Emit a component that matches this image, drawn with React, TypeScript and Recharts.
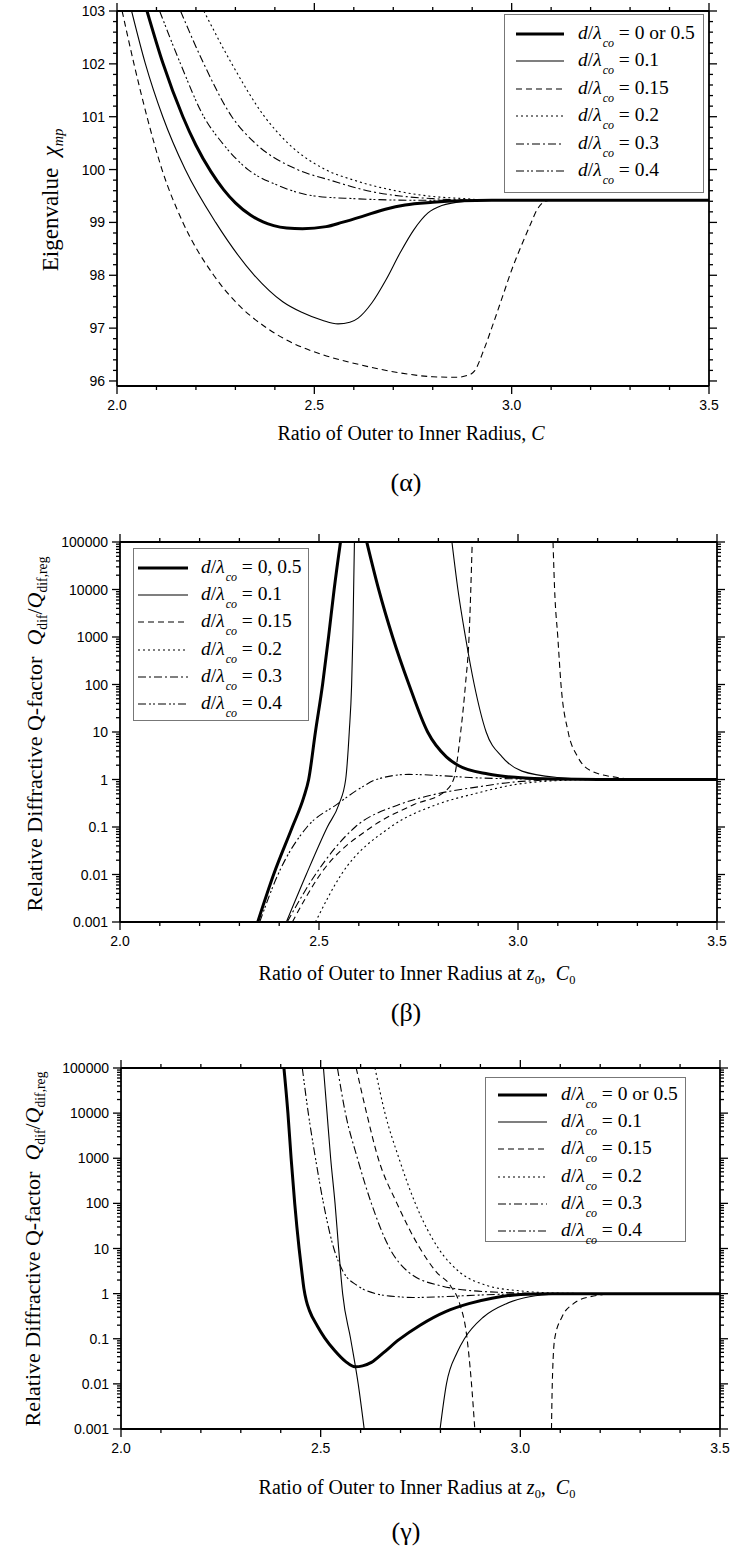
import { LineChart, Line, XAxis, YAxis, Legend } from 'recharts';

type Pair = [number, number | null];

// shared x axis (ratio C or C0)
const xMajor = [2, 2.5, 3, 3.5];
const xMinor = [2.1, 2.2, 2.3, 2.4, 2.6, 2.7, 2.8, 2.9, 3.1, 3.2, 3.3, 3.4];

// (α) eigenvalue axis
const eigenMajor = [96, 97, 98, 99, 100, 101, 102, 103];
const eigenMinor = eigenMajor.slice(0, -1).flatMap((v) => [0.2, 0.4, 0.6, 0.8].map((f) => +(v + f).toFixed(1)));

// (β), (γ) log axis
const logMajor = [0.001, 0.01, 0.1, 1, 10, 100, 1000, 10000, 100000];
const logMinor = logMajor.slice(0, -1).flatMap((d) => [2, 3, 4, 5, 6, 7, 8, 9].map((m) => +(m * d).toPrecision(3)));

const ratiosAlpha = ['0 or 0.5', '0.1', '0.15', '0.2', '0.3', '0.4'];
const ratiosBeta = ['0, 0.5', '0.1', '0.15', '0.2', '0.3', '0.4'];

// ---- (α) eigenvalue vs C ----
const alphaThick: Pair[] = [[2.076, 103], [2.116, 102.02], [2.167, 101], [2.2, 100.46], [2.238, 99.96], [2.27, 99.62], [2.3, 99.37], [2.338, 99.14], [2.37, 99.01], [2.397, 98.94], [2.43, 98.895], [2.47, 98.88], [2.53, 98.92], [2.57, 99.0], [2.62, 99.11], [2.68, 99.25], [2.73, 99.33], [2.8, 99.38], [2.87, 99.41], [2.95, 99.42], [3.5, 99.42]];
const alphaThin: Pair[] = [[2.037, 103], [2.072, 102], [2.116, 101], [2.173, 100], [2.25, 99], [2.348, 98], [2.42, 97.5], [2.468, 97.3], [2.52, 97.15], [2.56, 97.08], [2.59, 97.11], [2.611, 97.19], [2.646, 97.48], [2.682, 97.92], [2.717, 98.42], [2.752, 98.86], [2.788, 99.18], [2.823, 99.32], [2.883, 99.4], [2.93, 99.42], [3.5, 99.42]];
const alphaDash: Pair[] = [[2.013, 103], [2.043, 102], [2.076, 101], [2.114, 100], [2.167, 99], [2.245, 98], [2.3, 97.5], [2.38, 97], [2.45, 96.7], [2.52, 96.5], [2.62, 96.3], [2.72, 96.15], [2.8, 96.08], [2.86, 96.07], [2.89, 96.11], [2.906, 96.19], [2.93, 96.6], [2.954, 97.1], [2.977, 97.6], [3.0, 98.1], [3.024, 98.55], [3.048, 98.97], [3.065, 99.25], [3.085, 99.4], [3.1, 99.42], [3.5, 99.42]];
const alphaDot: Pair[] = [[2.22, 103], [2.291, 102], [2.374, 101], [2.433, 100.5], [2.528, 100], [2.6, 99.8], [2.705, 99.6], [2.788, 99.5], [2.88, 99.45], [2.95, 99.42], [3.5, 99.42]];
const alphaDashDot: Pair[] = [[2.161, 103], [2.22, 102], [2.291, 101], [2.35, 100.5], [2.457, 100], [2.54, 99.8], [2.634, 99.6], [2.717, 99.5], [2.8, 99.45], [2.9, 99.42], [3.5, 99.42]];
const alphaDashDotDot: Pair[] = [[2.108, 103], [2.161, 102], [2.22, 101], [2.267, 100.5], [2.332, 100], [2.408, 99.7], [2.5, 99.5], [2.6, 99.45], [2.75, 99.42], [3.5, 99.42]];

// ---- (β) relative Q vs C0 ----
const betaThick: Pair[] = [[2.346, 0.001], [2.386, 0.01], [2.433, 0.1], [2.462, 0.43], [2.474, 1], [2.491, 10], [2.509, 100], [2.524, 1000], [2.538, 10000], [2.554, 100000], [2.58, null], [2.62, 100000], [2.65, 10000], [2.685, 1000], [2.726, 100], [2.773, 10], [2.82, 3], [2.849, 2], [2.925, 1.3], [3.0, 1.1], [3.1, 1.02], [3.2, 1], [3.5, 1]];
const betaThin: Pair[] = [[2.418, 0.001], [2.468, 0.01], [2.521, 0.1], [2.55, 0.3], [2.567, 1], [2.576, 10], [2.582, 100], [2.585, 1000], [2.589, 100000], [2.7, null], [2.834, 100000], [2.849, 10000], [2.868, 1000], [2.89, 100], [2.92, 10], [2.96, 3], [3.01, 1.5], [3.1, 1.1], [3.2, 1], [3.5, 1]];
const betaDash: Pair[] = [[2.433, 0.001], [2.503, 0.01], [2.632, 0.1], [2.74, 0.3], [2.815, 0.55], [2.838, 1], [2.856, 10], [2.868, 100], [2.877, 1000], [2.885, 100000], [3.0, null], [3.088, 100000], [3.092, 10000], [3.1, 1000], [3.108, 100], [3.126, 10], [3.15, 3], [3.185, 1.5], [3.25, 1.1], [3.3, 1], [3.5, 1]];
const betaDot: Pair[] = [[2.491, 0.001], [2.556, 0.01], [2.68, 0.1], [2.797, 0.3], [2.89, 0.5], [3.0, 0.8], [3.1, 0.95], [3.2, 1], [3.5, 1]];
const betaDashDot: Pair[] = [[2.42, 0.001], [2.491, 0.01], [2.591, 0.1], [2.703, 0.3], [2.797, 0.5], [2.9, 0.7], [3.0, 0.9], [3.15, 1], [3.5, 1]];
const betaDashDotDot: Pair[] = [[2.351, 0.001], [2.397, 0.01], [2.47, 0.1], [2.545, 0.3], [2.609, 0.7], [2.644, 1], [2.726, 1.28], [2.81, 1.2], [2.88, 1.1], [3.0, 1.03], [3.1, 1], [3.5, 1]];

// ---- (γ) relative Q vs C0 ----
const gammaThick: Pair[] = [[2.408, 100000], [2.418, 10000], [2.426, 1000], [2.435, 100], [2.446, 10], [2.452, 3.5], [2.458, 1.3], [2.464, 0.7], [2.472, 0.42], [2.492, 0.19], [2.51, 0.105], [2.535, 0.055], [2.562, 0.0316], [2.586, 0.024], [2.605, 0.0251], [2.627, 0.03], [2.656, 0.048], [2.696, 0.0955], [2.749, 0.2], [2.813, 0.4], [2.871, 0.6], [2.929, 0.79], [3.0, 0.96], [3.08, 1], [3.5, 1]];
const gammaThin: Pair[] = [[2.507, 100000], [2.516, 10000], [2.525, 1000], [2.536, 100], [2.545, 10], [2.555, 1], [2.575, 0.1], [2.594, 0.01], [2.609, 0.001], [2.7, null], [2.799, 0.001], [2.815, 0.01], [2.842, 0.05], [2.86, 0.1], [2.907, 0.3], [2.965, 0.6], [3.023, 0.85], [3.09, 0.97], [3.2, 1], [3.5, 1]];
const gammaDash: Pair[] = [[2.589, 100000], [2.615, 10000], [2.644, 1000], [2.691, 100], [2.749, 10], [2.79, 3], [2.825, 1.5], [2.848, 0.6], [2.865, 0.13], [2.877, 0.012], [2.886, 0.001], [3.0, null], [3.078, 0.001], [3.08, 0.01], [3.086, 0.1], [3.104, 0.3], [3.133, 0.6], [3.174, 0.85], [3.25, 1], [3.5, 1]];
const gammaDot: Pair[] = [[2.636, 100000], [2.661, 10000], [2.696, 1000], [2.737, 100], [2.795, 10], [2.848, 3], [2.918, 1.5], [3.0, 1.15], [3.09, 1.03], [3.2, 1], [3.5, 1]];
const gammaDashDot: Pair[] = [[2.542, 100000], [2.562, 10000], [2.592, 1000], [2.627, 100], [2.673, 10], [2.72, 3], [2.8, 1.5], [2.918, 1.1], [3.1, 1], [3.5, 1]];
const gammaDashDotDot: Pair[] = [[2.454, 100000], [2.469, 10000], [2.487, 1000], [2.507, 100], [2.533, 10], [2.557, 3], [2.592, 1.5], [2.638, 1.0], [2.696, 0.85], [2.731, 0.82], [2.8, 0.85], [2.884, 0.92], [2.977, 0.98], [3.1, 1], [3.5, 1]];

const lineWidths = [3, 1.1, 1.1, 1.1, 1.1, 1.1];
const lineDashes = [undefined, undefined, '6 4', '2 3', '8 3 2 3', '8 3 2 2 2 3'];

const serif = '"Liberation Serif", "Times New Roman", serif';
const sans = '"Liberation Sans", Arial, sans-serif';

const toPts = (arr: Pair[]) => arr.map(([x, y]) => ({ x, y }));
const isIn = (list: number[], v: number) => list.some((m) => Math.abs(m - v) < 1e-9 * Math.max(1, Math.abs(m)));

// one axis per side; each tick draws its own mark (long for majors, short for minors)
function makeTick(side: 'bottom' | 'top' | 'left' | 'right', majors: number[], fmt?: (v: number) => string) {
  return (p: any) => {
    const { x, y, payload } = p;
    const v = payload.value as number;
    const major = isIn(majors, v);
    const len = major ? 8 : 4;
    let x2 = x, y2 = y;
    if (side === 'bottom') y2 = y + len;
    if (side === 'top') y2 = y - len;
    if (side === 'left') x2 = x - len;
    if (side === 'right') x2 = x + len;
    return (
      <g>
        <line x1={x} y1={y} x2={x2} y2={y2} stroke="#000" strokeWidth={1.3} />
        {major && fmt && side === 'bottom' && (
          <text x={x} y={y + 14} dy="0.71em" textAnchor="middle" fontFamily={sans} fontSize={14} fill="#000">{fmt(v)}</text>
        )}
        {major && fmt && side === 'left' && (
          <text x={x - 12} y={y} dy="0.36em" textAnchor="end" fontFamily={sans} fontSize={14} fill="#000">{fmt(v)}</text>
        )}
      </g>
    );
  };
}

function frameAxes(yLog: boolean, yDomain: number[], yMajor: number[], yMinor: number[]) {
  const axisLine = { stroke: '#000', strokeWidth: 1.8 };
  const scale = yLog ? 'log' : 'linear';
  const xTicks = [...xMajor, ...xMinor].sort((a, b) => a - b);
  const yTicks = [...yMajor, ...yMinor].sort((a, b) => a - b);
  const xFmt = (v: number) => v.toFixed(1);
  const yFmt = (v: number) => String(v);
  return [
    <XAxis key="xb" xAxisId="x" dataKey="x" type="number" domain={[2, 3.5]} allowDataOverflow height={1}
      ticks={xTicks} interval={0} tickSize={0} tickMargin={0} axisLine={axisLine} tickLine={false}
      tick={makeTick('bottom', xMajor, xFmt)} />,
    <XAxis key="xt" xAxisId="xt" orientation="top" dataKey="x" type="number" domain={[2, 3.5]} allowDataOverflow height={1}
      ticks={xTicks} interval={0} tickSize={0} tickMargin={0} axisLine={axisLine} tickLine={false}
      tick={makeTick('top', xMajor)} />,
    <YAxis key="yl" yAxisId="y" type="number" scale={scale} domain={yDomain} allowDataOverflow width={1}
      ticks={yTicks} interval={0} tickSize={0} tickMargin={0} axisLine={axisLine} tickLine={false}
      tick={makeTick('left', yMajor, yFmt)} />,
    <YAxis key="yr" yAxisId="yr" orientation="right" type="number" scale={scale} domain={yDomain} allowDataOverflow width={1}
      ticks={yTicks} interval={0} tickSize={0} tickMargin={0} axisLine={axisLine} tickLine={false}
      tick={makeTick('right', yMajor)} />,
  ];
}

interface LegendLayout {
  left: number;
  top: number;
  width: number;
  height: number;
  firstRow: number;
  rowGap: number;
  sampleLeft: number;
  sampleWidth: number;
  textLeft: number;
}

function LegendBox({ labels, lay }: { labels: string[]; lay: LegendLayout }) {
  return (
    <div style={{ position: 'relative', width: lay.width, height: lay.height, boxSizing: 'border-box',
      border: '1.5px solid #777', background: '#fff', fontFamily: serif, fontSize: 19.5, color: '#000' }}>
      {labels.map((lab, i) => {
        const c = lay.firstRow + i * lay.rowGap;
        return (
          <div key={i}>
            <svg style={{ position: 'absolute', left: lay.sampleLeft, top: c - 4 }} width={lay.sampleWidth} height={8}>
              <line x1={0} x2={lay.sampleWidth} y1={4} y2={4} stroke="#000" strokeWidth={lineWidths[i]}
                strokeDasharray={lineDashes[i]} />
            </svg>
            <div style={{ position: 'absolute', left: lay.textLeft, top: c - 11, lineHeight: '20px', whiteSpace: 'nowrap' }}>
              <i>d</i>/<i>λ</i>
              <i style={{ fontSize: 12, position: 'relative', top: 8, marginLeft: 1 }}>co</i>
              {' '}= {lab}
            </div>
          </div>
        );
      })}
    </div>
  );
}

interface PanelProps {
  top: number;
  height: number;
  margin: { top: number; right: number; bottom: number; left: number };
  yLog: boolean;
  yDomain: number[];
  yMajor: number[];
  yMinor: number[];
  series: Pair[][];
  labels: string[];
  lay: LegendLayout;
}

function Panel({ top, height, margin, yLog, yDomain, yMajor, yMinor, series, labels, lay }: PanelProps) {
  return (
    <div style={{ position: 'absolute', left: 0, top, width: 730, height }}>
      <LineChart width={730} height={height} margin={margin}>
        {frameAxes(yLog, yDomain, yMajor, yMinor)}
        {series.map((s, i) => (
          <Line key={i} data={toPts(s)} dataKey="y" xAxisId="x" yAxisId="y" type="monotone"
            stroke="#000" strokeWidth={lineWidths[i]} strokeDasharray={lineDashes[i]}
            dot={false} activeDot={false} connectNulls={false} isAnimationActive={false} />
        ))}
        {/* invisible copy so the mirrored top/right axes have a series bound to them */}
        <Line data={toPts(series[0])} dataKey="y" xAxisId="xt" yAxisId="yr" stroke="none" dot={false}
          activeDot={false} legendType="none" isAnimationActive={false} />
        <Legend layout="vertical" align="center" verticalAlign="middle"
          wrapperStyle={{ position: 'absolute', left: lay.left, top: lay.top, width: lay.width, height: lay.height }}
          content={() => <LegendBox labels={labels} lay={lay} />} />
      </LineChart>
    </div>
  );
}

function Text({ x, y, size, rotate, children }: { x: number; y: number; size: number; rotate?: boolean; children: React.ReactNode }) {
  return (
    <div style={{ position: 'absolute', left: x, top: y, transform: `translate(-50%, -50%)${rotate ? ' rotate(-90deg)' : ''}`,
      fontFamily: serif, fontSize: size, lineHeight: 1, whiteSpace: 'nowrap', color: '#000' }}>
      {children}
    </div>
  );
}

const sub = (t: string, italic = false) => (
  <span style={{ fontSize: '0.62em', position: 'relative', top: '0.35em', fontStyle: italic ? 'italic' : 'normal' }}>{t}</span>
);

const qTitle = (
  <>Relative Diffractive Q-factor&nbsp;&nbsp;<i>Q</i>{sub('dif')}/<i>Q</i>{sub('dif,reg')}</>
);
const c0Title = (
  <>Ratio of Outer to Inner Radius at <i>z</i>{sub('0')},&nbsp; <i>C</i>{sub('0')}</>
);

export default function App() {
  return (
    <div style={{ position: 'absolute', left: 0, top: 0, width: 730, height: 1566, background: '#fff', overflow: 'hidden' }}>
      <Panel top={0} height={425} margin={{ top: 10, right: 20, bottom: 38, left: 116 }}
        yLog={false} yDomain={[95.905, 103]} yMajor={eigenMajor} yMinor={eigenMinor}
        series={[alphaThick, alphaThin, alphaDash, alphaDot, alphaDashDot, alphaDashDotDot]} labels={ratiosAlpha}
        lay={{ left: 504, top: 14, width: 200, height: 179, firstRow: 19, rowGap: 27.4, sampleLeft: 11, sampleWidth: 48, textLeft: 73 }} />
      <Text x={50} y={200} size={23} rotate>Eigenvalue&nbsp;&nbsp;<i>χ</i>{sub('mp', true)}</Text>
      <Text x={411} y={433} size={20}>Ratio of Outer to Inner Radius, <i>C</i></Text>
      <Text x={406} y={483} size={26}>(α)</Text>

      <Panel top={530} height={420} margin={{ top: 11, right: 12, bottom: 27, left: 119 }}
        yLog yDomain={[0.001, 100000]} yMajor={logMajor} yMinor={logMinor}
        series={[betaThick, betaThin, betaDash, betaDot, betaDashDot, betaDashDotDot]} labels={ratiosBeta}
        lay={{ left: 133, top: 18, width: 176, height: 173, firstRow: 19, rowGap: 27.2, sampleLeft: 4, sampleWidth: 50, textLeft: 67 }} />
      <Text x={35} y={734} size={22} rotate>{qTitle}</Text>
      <Text x={417} y={973} size={20}>{c0Title}</Text>
      <Text x={406} y={1013} size={26}>(β)</Text>

      <Panel top={1056} height={410} margin={{ top: 11, right: 9, bottom: 36, left: 120 }}
        yLog yDomain={[0.001, 100000]} yMajor={logMajor} yMinor={logMinor}
        series={[gammaThick, gammaThin, gammaDash, gammaDot, gammaDashDot, gammaDashDotDot]} labels={ratiosAlpha}
        lay={{ left: 485, top: 21, width: 201, height: 165, firstRow: 17, rowGap: 27.2, sampleLeft: 12, sampleWidth: 49, textLeft: 75 }} />
      <Text x={33} y={1249} size={22} rotate>{qTitle}</Text>
      <Text x={417} y={1487} size={20}>{c0Title}</Text>
      <Text x={406} y={1532} size={26}>(γ)</Text>
    </div>
  );
}
